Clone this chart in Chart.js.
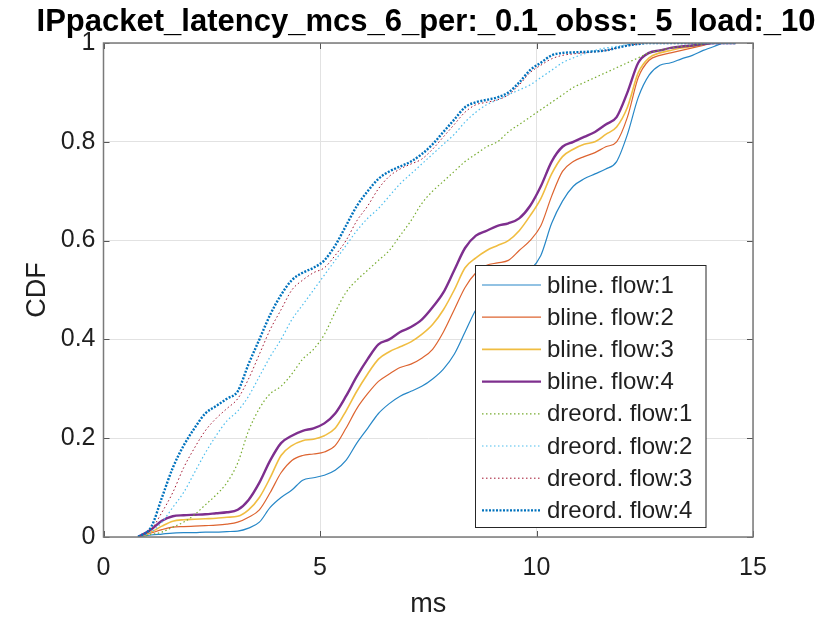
<!DOCTYPE html>
<html>
<head>
<meta charset="utf-8">
<script src="https://cdn.jsdelivr.net/npm/chart.js@4.4.0/dist/chart.umd.min.js"></script>
<style>
  html, body { margin: 0; padding: 0; background: #fff; }
  #wrap { width: 834px; height: 621px; }
</style>
</head>
<body>
<div id="wrap"><canvas id="cdf" width="834" height="621"></canvas></div>
<script>
// latency samples (ms) where each CDF curve was read
const msGrid = [0.8, 1.1, 1.35, 1.6, 1.85, 2.1, 2.35, 2.6, 2.85, 3.1,
  3.35, 3.6, 3.85, 4.1, 4.35, 4.6, 4.85, 5.1, 5.35, 5.6,
  5.85, 6.1, 6.35, 6.6, 6.85, 7.1, 7.35, 7.6, 7.85, 8.1,
  8.35, 8.6, 8.85, 9.1, 9.35, 9.6, 9.85, 10.1, 10.35, 10.6,
  10.85, 11.1, 11.35, 11.6, 11.85, 12.1, 12.35, 12.6, 12.85, 13.1,
  13.35, 13.6, 13.85, 14.1, 14.35, 14.6];

const blineFlow1 = [0, 0.004, 0.006, 0.008, 0.009, 0.009, 0.01, 0.01, 0.011, 0.012,
  0.018, 0.03, 0.06, 0.08, 0.095, 0.115, 0.12, 0.125, 0.135, 0.155,
  0.19, 0.22, 0.25, 0.27, 0.285, 0.295, 0.305, 0.32, 0.34, 0.37,
  0.415, 0.46, 0.49, 0.505, 0.515, 0.525, 0.54, 0.57, 0.635, 0.68,
  0.71, 0.725, 0.735, 0.745, 0.76, 0.815, 0.89, 0.935, 0.955, 0.96,
  0.968, 0.975, 0.985, 0.993, 1, 1];
const blineFlow2 = [0, 0.008, 0.015, 0.02, 0.021, 0.022, 0.023, 0.024, 0.026, 0.03,
  0.04, 0.055, 0.09, 0.13, 0.155, 0.165, 0.168, 0.172, 0.185, 0.22,
  0.26, 0.29, 0.315, 0.33, 0.343, 0.35, 0.362, 0.38, 0.415, 0.46,
  0.505, 0.535, 0.55, 0.555, 0.56, 0.58, 0.6, 0.63, 0.69, 0.74,
  0.76, 0.77, 0.778, 0.79, 0.8, 0.85, 0.93, 0.965, 0.975, 0.98,
  0.985, 0.99, 0.995, 1, 1, 1];
const blineFlow3 = [0, 0.01, 0.022, 0.032, 0.035, 0.036, 0.037, 0.038, 0.04, 0.042,
  0.055, 0.08, 0.12, 0.165, 0.185, 0.195, 0.198, 0.205, 0.22, 0.255,
  0.295, 0.33, 0.36, 0.375, 0.385, 0.395, 0.41, 0.43, 0.46, 0.5,
  0.545, 0.565, 0.58, 0.59, 0.6, 0.62, 0.65, 0.685, 0.735, 0.77,
  0.785, 0.795, 0.8, 0.815, 0.83, 0.87, 0.94, 0.97, 0.98, 0.985,
  0.99, 0.993, 0.997, 1, 1, 1];
const blineFlow4 = [0, 0.015, 0.033, 0.042, 0.044, 0.045, 0.046, 0.048, 0.05, 0.055,
  0.075, 0.11, 0.155, 0.19, 0.205, 0.215, 0.22, 0.23, 0.25, 0.285,
  0.325, 0.36, 0.39, 0.4, 0.415, 0.425, 0.44, 0.465, 0.495, 0.54,
  0.585, 0.61, 0.62, 0.63, 0.635, 0.645, 0.67, 0.71, 0.76, 0.79,
  0.8, 0.81, 0.82, 0.835, 0.85, 0.9, 0.96, 0.98, 0.985, 0.99,
  0.993, 0.995, 0.998, 1, 1, 1];
const dreordFlow1 = [0, 0.005, 0.01, 0.02, 0.03, 0.045, 0.065, 0.085, 0.11, 0.15,
  0.215, 0.26, 0.29, 0.305, 0.33, 0.36, 0.38, 0.41, 0.455, 0.495,
  0.52, 0.54, 0.56, 0.58, 0.61, 0.64, 0.675, 0.7, 0.72, 0.74,
  0.76, 0.775, 0.79, 0.8, 0.82, 0.835, 0.85, 0.865, 0.88, 0.895,
  0.91, 0.92, 0.93, 0.94, 0.95, 0.96, 0.97, 0.98, 0.985, 0.99,
  0.993, 0.995, 0.998, 1, 1, 1];
const dreordFlow2 = [0, 0.01, 0.03, 0.06, 0.09, 0.13, 0.17, 0.205, 0.235, 0.255,
  0.285, 0.325, 0.365, 0.4, 0.44, 0.47, 0.5, 0.53, 0.56, 0.59,
  0.62, 0.645, 0.665, 0.69, 0.715, 0.735, 0.755, 0.775, 0.795, 0.815,
  0.84, 0.86, 0.875, 0.885, 0.895, 0.905, 0.915, 0.93, 0.945, 0.96,
  0.97, 0.978, 0.985, 0.99, 0.993, 0.997, 1, 1, 1, 1,
  1, 1, 1, 1, 1, 1];
const dreordFlow3 = [0, 0.015, 0.05, 0.09, 0.14, 0.18, 0.215, 0.24, 0.26, 0.28,
  0.32, 0.37, 0.42, 0.46, 0.5, 0.52, 0.535, 0.545, 0.57, 0.6,
  0.64, 0.67, 0.705, 0.73, 0.745, 0.755, 0.765, 0.785, 0.81, 0.835,
  0.86, 0.875, 0.88, 0.885, 0.895, 0.915, 0.94, 0.955, 0.968, 0.975,
  0.978, 0.98, 0.982, 0.985, 0.99, 0.995, 0.998, 1, 1, 1,
  1, 1, 1, 1, 1, 1];
const dreordFlow4 = [0, 0.02, 0.08, 0.14, 0.185, 0.22, 0.25, 0.265, 0.28, 0.295,
  0.35, 0.4, 0.45, 0.49, 0.52, 0.535, 0.545, 0.56, 0.59, 0.63,
  0.67, 0.7, 0.725, 0.74, 0.75, 0.76, 0.775, 0.795, 0.82, 0.845,
  0.87, 0.88, 0.885, 0.89, 0.9, 0.92, 0.945, 0.96, 0.975, 0.98,
  0.981, 0.982, 0.983, 0.985, 0.99, 0.995, 0.998, 1, 1, 1,
  1, 1, 1, 1, 1, 1];

const seriesNames = ["bline. flow:1", "bline. flow:2", "bline. flow:3", "bline. flow:4",
  "dreord. flow:1", "dreord. flow:2", "dreord. flow:3", "dreord. flow:4"];
const seriesValues = [blineFlow1, blineFlow2, blineFlow3, blineFlow4,
  dreordFlow1, dreordFlow2, dreordFlow3, dreordFlow4];

const xTicks = [0, 5, 10, 15];
const xTickLabels = ["0", "5", "10", "15"];
const yTicks = [0, 0.2, 0.4, 0.6, 0.8, 1];
const yTickLabels = ["0", "0.2", "0.4", "0.6", "0.8", "1"];

const chartTitle = "IPpacket_latency_mcs_6_per:_0.1_obss:_5_load:_10";

// MATLAB-like styling
const lineColors = ["rgba(0,114,189,0.85)", "rgba(217,83,25,0.9)", "rgba(237,177,32,0.85)", "#7E2F8E",
  "#77AC30", "#4DBEEE", "#A2142F", "#0072BD"];
const lineWidths = [1.2, 1.2, 1.6, 2.4, 1.2, 1.2, 1.0, 2.4];
const lineDashes = [[], [], [], [], [1.5, 2.5], [1.5, 2.5], [1.5, 2.5], [2, 1.5]];

const FONT = "'Liberation Sans', Arial, Helvetica, sans-serif";
const TXT = "#1f1f1f";

const datasets = seriesValues.map((vals, i) => ({
  label: seriesNames[i],
  data: msGrid.map((x, k) => ({ x: x, y: vals[k] })),
  borderColor: lineColors[i],
  borderWidth: lineWidths[i],
  borderDash: lineDashes[i],
  pointRadius: 0,
  fill: false,
  cubicInterpolationMode: "monotone",
  order: seriesValues.length - i
}));

// frame, inner tick marks, title and legend drawn over the plot
const matlabLook = {
  id: "matlabLook",
  afterDraw(chart) {
    const ctx = chart.ctx;
    const a = chart.chartArea;
    const xs = chart.scales.x, ys = chart.scales.y;
    ctx.save();

    // ticks pointing inward
    ctx.strokeStyle = "#555";
    ctx.lineWidth = 1;
    ctx.beginPath();
    xTicks.forEach(v => {
      const px = Math.round(xs.getPixelForValue(v)) + 0.5;
      ctx.moveTo(px, a.bottom); ctx.lineTo(px, a.bottom - 6);
      ctx.moveTo(px, a.top); ctx.lineTo(px, a.top + 6);
    });
    yTicks.forEach(v => {
      const py = Math.round(ys.getPixelForValue(v)) + 0.5;
      ctx.moveTo(a.left, py); ctx.lineTo(a.left + 6, py);
      ctx.moveTo(a.right, py); ctx.lineTo(a.right - 6, py);
    });
    ctx.stroke();

    // box
    ctx.strokeStyle = "#7a7a7a";
    ctx.lineWidth = 1.5;
    ctx.strokeRect(a.left, a.top, a.right - a.left, a.bottom - a.top);

    // title
    ctx.fillStyle = "#000";
    ctx.font = "bold 31px " + FONT;
    ctx.textAlign = "center";
    ctx.textBaseline = "alphabetic";
    ctx.fillText(chartTitle, 426, 31);

    // legend
    const lx = 475.5, ly = 265.5, lw = 230.5, lh = 262;
    ctx.fillStyle = "#fff";
    ctx.fillRect(lx, ly, lw, lh);
    ctx.strokeStyle = "#262626";
    ctx.lineWidth = 1;
    ctx.strokeRect(lx, ly, lw, lh);
    ctx.font = "24px " + FONT;
    ctx.textAlign = "left";
    ctx.textBaseline = "middle";
    chart.data.datasets.forEach((ds, i) => {
      const y = 285 + i * 32.2;
      ctx.strokeStyle = ds.borderColor;
      ctx.lineWidth = ds.borderWidth;
      ctx.setLineDash(ds.borderDash);
      ctx.beginPath();
      ctx.moveTo(482, y); ctx.lineTo(541, y);
      ctx.stroke();
      ctx.setLineDash([]);
      ctx.fillStyle = TXT;
      ctx.fillText(ds.label, 547, y + 1);
    });
    ctx.restore();
  }
};

new Chart(document.getElementById("cdf"), {
  type: "line",
  data: { datasets: datasets },
  options: {
    responsive: false,
    animation: false,
    layout: { padding: { top: 43, right: 81, left: 0, bottom: 0 } },
    plugins: {
      legend: { display: false },
      title: { display: false },
      tooltip: { enabled: false }
    },
    scales: {
      x: {
        type: "linear",
        min: 0, max: 15,
        afterBuildTicks: s => { s.ticks = xTicks.map(v => ({ value: v })); },
        afterFit: s => { s.height = 84; },
        grid: { color: "#e2e2e2", drawTicks: false },
        border: { display: false },
        ticks: { padding: 16, color: TXT, font: { family: FONT, size: 25 }, maxRotation: 0,
          callback: (v, i) => xTickLabels[i] },
        title: { display: true, text: "ms", color: TXT, font: { family: FONT, size: 27 }, padding: { top: 0, bottom: 0 } }
      },
      y: {
        min: 0, max: 1,
        afterBuildTicks: s => { s.ticks = yTicks.map(v => ({ value: v })); },
        afterFit: s => { s.width = 103.5; },
        grid: { color: "#e2e2e2", drawTicks: false },
        border: { display: false },
        ticks: { padding: 8, color: TXT, font: { family: FONT, size: 25 },
          callback: (v, i) => yTickLabels[i] },
        title: { display: true, text: "CDF", color: TXT, font: { family: FONT, size: 27 }, padding: { top: 21, bottom: 0 } }
      }
    }
  },
  plugins: [matlabLook]
});
</script>
</body>
</html>
